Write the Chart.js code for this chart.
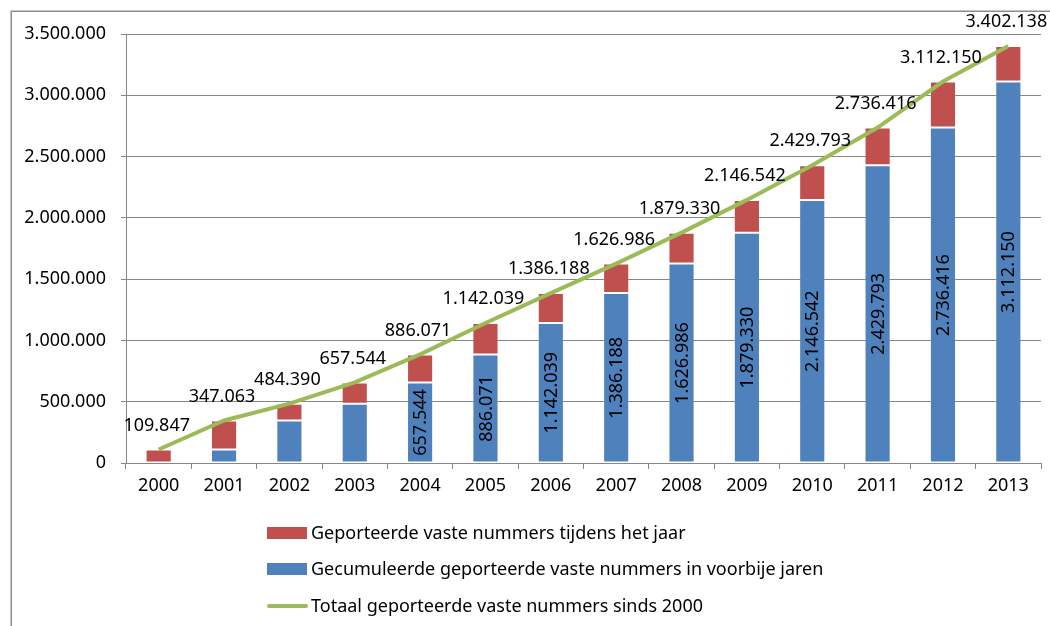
<!DOCTYPE html>
<html>
<head>
<meta charset="utf-8">
<script src="https://cdn.jsdelivr.net/npm/chart.js@4/dist/chart.umd.min.js"></script>
<style>
  html, body { margin: 0; padding: 0; background: #ffffff; }
  #c { display: block; }
</style>
</head>
<body>
<canvas id="c" width="1050" height="626"></canvas>
<script>
// ---- data ----
const years = ['2000','2001','2002','2003','2004','2005','2006','2007','2008','2009','2010','2011','2012','2013'];
const portedInYear = [109847, 237216, 137327, 173154, 228527, 255968, 244149, 240798, 252344, 267212, 283251, 306623, 375734, 289988];
const cumulativePrevYears = [0, 109847, 347063, 484390, 657544, 886071, 1142039, 1386188, 1626986, 1879330, 2146542, 2429793, 2736416, 3112150];
const totalSince2000 = [109847, 347063, 484390, 657544, 886071, 1142039, 1386188, 1626986, 1879330, 2146542, 2429793, 2736416, 3112150, 3402138];
const yTickValues = [0, 500000, 1000000, 1500000, 2000000, 2500000, 3000000, 3500000];

const labelRed = 'Geporteerde vaste nummers tijdens het jaar';
const labelBlue = 'Gecumuleerde geporteerde vaste nummers in voorbije jaren';
const labelGreen = 'Totaal geporteerde vaste nummers sinds 2000';

const RED = '#C0504D', BLUE = '#4F81BD', GREEN = '#9BBB59', GRID = '#868686';
const FONT = '"Noto Sans", "Open Sans", sans-serif';

function fmt(n) {
  return String(Math.round(n)).replace(/\B(?=(\d{3})+(?!\d))/g, '.');
}

const framePlugin = {
  id: 'frame',
  beforeDraw(chart) {
    const ctx = chart.ctx;
    ctx.save();
    ctx.strokeStyle = '#8c8c8c';
    ctx.lineWidth = 1.5;
    ctx.strokeRect(11.25, 11.25, 1100, 700);
    ctx.restore();
  }
};

const labelsPlugin = {
  id: 'labels',
  afterDatasetsDraw(chart) {
    const ctx = chart.ctx;
    ctx.save();
    ctx.fillStyle = '#000';
    ctx.font = '18px ' + FONT;
    // blue segment labels (rotated)
    const blueMeta = chart.getDatasetMeta(0);
    blueMeta.data.forEach((bar, i) => {
      const v = cumulativePrevYears[i];
      if (!v) return;
      const txt = fmt(v);
      const h = Math.abs(bar.base - bar.y);
      const w = ctx.measureText(txt).width;
      if (h < w + 6) return;
      ctx.save();
      ctx.translate(bar.x, (bar.y + bar.base) / 2);
      ctx.rotate(-Math.PI / 2);
      ctx.textAlign = 'center';
      ctx.textBaseline = 'middle';
      ctx.fillText(txt, 0, 1);
      ctx.restore();
    });
    // line labels above points
    const lineMeta = chart.getDatasetMeta(2);
    lineMeta.data.forEach((pt, i) => {
      ctx.textAlign = 'center';
      ctx.textBaseline = 'middle';
      ctx.fillText(fmt(totalSince2000[i]), pt.x - 2, pt.y - 24);
    });
    ctx.restore();
  }
};

const legendPlugin = {
  id: 'customLegend',
  afterDraw(chart) {
    const ctx = chart.ctx;
    const items = [
      { ds: chart.data.datasets[1], type: 'box', y: 533 },
      { ds: chart.data.datasets[0], type: 'box', y: 569 },
      { ds: chart.data.datasets[2], type: 'line', y: 606 }
    ];
    ctx.save();
    ctx.font = '18px ' + FONT;
    ctx.textBaseline = 'middle';
    ctx.textAlign = 'left';
    items.forEach(it => {
      if (it.type === 'box') {
        ctx.fillStyle = it.ds.backgroundColor;
        ctx.fillRect(267, it.y - 6, 40, 12);
      } else {
        ctx.strokeStyle = it.ds.borderColor;
        ctx.lineWidth = 4;
        ctx.lineCap = 'round';
        ctx.beginPath();
        ctx.moveTo(269, it.y);
        ctx.lineTo(306, it.y);
        ctx.stroke();
      }
      ctx.fillStyle = '#000';
      ctx.fillText(it.ds.label, 311, it.y + 1);
    });
    ctx.restore();
  }
};

new Chart(document.getElementById('c'), {
  type: 'bar',
  data: {
    labels: years,
    datasets: [
      { label: labelBlue, data: cumulativePrevYears, backgroundColor: BLUE, borderColor: 'rgba(255,255,255,0.15)', borderWidth: 1, borderSkipped: false, stack: 's', order: 1, barPercentage: 0.4, categoryPercentage: 1 },
      { label: labelRed, data: portedInYear, backgroundColor: RED, borderColor: 'rgba(255,255,255,0.15)', borderWidth: 1, borderSkipped: false, stack: 's', order: 1, barPercentage: 0.4, categoryPercentage: 1 },
      { label: labelGreen, type: 'line', data: totalSince2000, borderColor: GREEN, backgroundColor: GREEN, borderWidth: 4, pointRadius: 0, tension: 0, order: 0 }
    ]
  },
  options: {
    responsive: false,
    animation: false,
    devicePixelRatio: 1,
    layout: { padding: { left: 0, top: 34, right: 9, bottom: 0 } },
    plugins: { legend: { display: false }, tooltip: { enabled: false } },
    scales: {
      x: {
        stacked: true,
        grid: { drawOnChartArea: false, drawTicks: true, tickLength: 6, color: GRID, offset: true },
        border: { color: GRID, width: 1 },
        ticks: { color: '#000', font: { family: FONT, size: 18 }, padding: 6, maxRotation: 0 },
        afterFit(s) { s.height = 163; }
      },
      y: {
        stacked: true,
        min: 0,
        max: 3500000,
        afterBuildTicks(s) { s.ticks = yTickValues.map(v => ({ value: v })); },
        grid: { color: GRID, tickLength: 5, lineWidth: 1 },
        border: { color: GRID, width: 1 },
        ticks: { color: '#000', font: { family: FONT, size: 18 }, padding: 15, callback: v => fmt(v) },
        afterFit(s) { s.width = 126; }
      }
    }
  },
  plugins: [framePlugin, labelsPlugin, legendPlugin]
});
</script>
</body>
</html>
